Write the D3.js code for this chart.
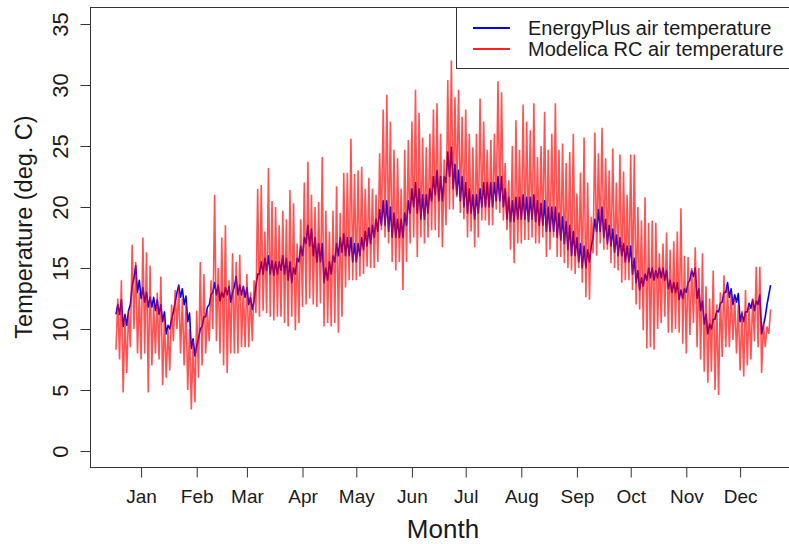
<!DOCTYPE html>
<html><head><meta charset="utf-8">
<script src="https://cdn.jsdelivr.net/npm/d3@7"></script>
<style>
body{margin:0;background:#fff}
svg{display:block}
text{font-family:"Liberation Sans", Arial, Helvetica, sans-serif; fill:#1a1a1a}
</style>
</head><body>
<svg id="c" width="789" height="544"></svg>
<script>
// ---- data ----
const monthLabels = ["Jan","Feb","Mar","Apr","May","Jun","Jul","Aug","Sep","Oct","Nov","Dec"];
const monthLengths = [31,28,31,30,31,30,31,31,30,31,30,31];
const yTicks = [0,5,10,15,20,25,30,35];
const seriesNames = ["EnergyPlus air temperature","Modelica RC air temperature"];
const sampleStepDays = 2; // one low/high pair read every 2 days, starting Jan 1

// Modelica RC air temperature: low / high envelope (deg. C)
const redLo = [8.3,7.5,4.8,6.4,8.5,10.0,8.0,7.5,8.0,4.8,
7.0,8.0,7.5,5.4,6.0,6.6,9.0,10.0,8.0,7.0,
5.0,3.4,4.0,6.0,7.0,8.0,9.0,10.0,9.0,8.0,
7.0,6.4,8.0,8.0,8.0,8.5,8.5,8.5,9.0,11.3,
11.0,11.5,11.3,11.0,10.7,11.0,11.0,10.5,10.2,11.0,
9.9,10.5,11.8,12.0,12.5,12.0,11.8,12.1,10.2,10.5,
10.2,10.5,9.7,11.0,13.4,14.0,14.0,14.0,14.3,14.5,
15.1,15.0,15.0,15.5,18.1,17.5,17.0,15.5,14.8,15.5,
13.2,15.5,17.0,17.5,15.9,17.5,17.0,17.5,18.1,18.1,
17.5,16.7,18.5,19.8,19.8,20.8,19.5,19.0,17.5,18.0,
16.7,17.5,18.9,18.9,18.5,18.5,19.8,19.5,18.9,18.1,
16.5,15.4,17.0,17.0,17.3,17.3,17.5,17.0,17.0,17.5,
15.9,16.5,17.5,15.9,15.9,15.4,15.0,14.8,14.5,15.0,
13.8,12.6,12.4,16.2,16.0,17.0,16.5,16.5,15.4,15.0,
14.8,13.8,14.0,14.0,13.2,12.0,11.6,9.9,8.4,8.5,
8.3,10.0,10.5,11.0,9.7,9.7,10.0,9.7,8.8,8.0,
9.5,10.5,8.5,7.5,6.5,5.6,6.5,5.0,4.6,7.7,
8.5,8.5,9.1,8.0,6.6,6.1,7.0,7.5,9.0,8.5,
6.4,8.5,9.6];
const redHi = [12.5,14.0,11.0,11.5,16.9,15.5,13.0,17.5,16.3,15.2,
12.0,13.0,14.3,11.0,10.0,12.0,13.2,13.5,12.5,12.0,
10.0,9.0,11.5,15.5,14.5,11.5,14.0,21.0,15.0,17.5,
18.5,14.0,16.2,15.5,16.1,13.5,14.5,13.0,14.0,21.5,
21.8,18.0,23.2,20.5,20.0,18.5,19.7,19.0,21.4,20.3,
17.0,19.0,22.0,23.7,21.0,20.0,20.4,24.1,19.7,18.0,
19.7,21.7,19.5,22.8,22.8,25.6,22.7,23.0,23.3,21.5,
22.4,21.5,21.0,24.4,28.0,29.2,27.0,24.7,24.0,21.5,
24.7,25.5,27.0,29.6,27.7,25.7,24.9,26.0,28.0,28.5,
26.0,23.9,30.4,32.0,29.0,29.6,27.4,28.0,26.0,24.9,
26.0,28.9,27.0,24.7,25.5,26.0,30.3,29.4,23.6,22.2,
25.0,27.1,24.7,28.4,27.0,26.3,28.5,24.1,25.0,27.8,
24.7,26.0,28.5,24.7,25.2,23.6,24.5,26.0,21.1,22.8,
25.7,22.0,19.2,26.1,24.4,26.5,24.0,23.0,24.8,22.0,
24.3,22.9,21.0,24.3,24.3,20.0,18.9,20.8,18.7,18.9,
18.7,16.2,17.0,17.9,16.5,17.2,18.0,19.9,16.0,15.9,
15.0,16.7,15.0,16.2,13.5,12.5,14.8,12.0,13.0,14.4,
13.5,13.0,12.5,12.0,11.5,13.2,12.0,12.5,15.1,15.1,
10.5,10.2,11.6];

// EnergyPlus air temperature: low / high envelope (deg. C)
const blueLo = [11.2,11.2,10.2,10.3,12.0,14.2,13.0,12.5,12.2,11.8,
11.8,11.5,11.2,10.6,9.6,10.0,11.4,13.0,12.6,12.0,
10.6,8.4,7.8,9.2,10.2,11.0,12.0,13.0,12.8,12.3,
12.6,12.8,12.2,13.5,12.8,12.8,12.6,12.0,11.6,13.5,
14.5,14.5,14.8,14.5,14.4,14.5,14.8,14.5,14.0,13.8,
14.5,15.5,16.0,17.0,16.8,16.0,15.5,15.5,13.8,14.0,
14.5,15.5,16.0,16.3,16.0,16.0,15.5,15.5,16.0,16.5,
16.8,17.0,17.5,18.0,18.5,18.5,18.0,17.5,17.5,17.5,
17.5,18.5,19.5,20.0,19.5,19.0,19.0,19.5,20.5,21.0,
20.5,20.5,22.0,22.5,21.5,21.0,20.5,20.0,19.5,19.5,
19.0,19.5,20.0,20.0,20.0,20.0,20.5,20.5,20.0,19.0,
18.8,18.8,19.0,19.0,19.0,18.8,19.0,18.8,18.5,18.5,
18.0,18.0,18.0,17.5,17.3,17.0,16.5,16.0,16.0,15.5,
15.0,15.0,15.5,17.5,18.0,18.0,17.5,17.0,16.8,16.3,
16.0,16.0,15.5,15.5,14.5,13.8,13.2,13.5,14.0,14.2,
14.0,14.2,14.2,14.0,13.3,13.0,13.0,12.4,12.5,13.0,
14.0,14.3,12.5,11.5,10.4,9.6,10.0,10.8,11.4,12.2,
13.0,12.6,12.0,12.2,10.6,10.6,11.4,11.7,11.5,12.0,
9.6,11.0,12.8];
const blueHi = [12.0,12.4,11.2,11.5,13.5,15.2,14.0,13.4,13.0,12.6,
12.6,12.4,12.0,11.4,10.3,10.8,12.2,13.6,13.3,12.7,
11.3,9.2,8.6,10.0,11.0,11.8,12.8,13.8,13.6,13.0,
13.4,13.5,13.0,14.3,13.6,13.5,13.4,12.6,12.3,14.5,
15.5,15.8,16.0,15.6,15.5,15.5,16.0,15.8,15.5,15.0,
15.8,16.8,17.5,18.5,18.2,17.5,17.0,17.0,15.0,15.5,
16.0,17.0,17.5,17.8,17.5,17.5,17.0,17.0,17.5,18.0,
18.3,18.5,19.0,19.8,20.5,20.5,20.0,19.5,19.0,19.0,
19.5,20.5,21.5,22.0,21.5,21.0,21.0,21.5,22.5,23.0,
22.5,22.5,24.5,24.9,23.5,23.0,22.5,22.0,21.5,21.0,
21.0,21.5,22.0,22.0,22.0,22.0,22.5,22.5,21.5,20.8,
20.5,20.8,20.8,21.0,20.8,20.8,21.0,20.5,20.3,20.5,
20.0,20.0,20.0,19.5,19.2,18.8,18.5,18.0,17.5,17.0,
16.8,16.5,16.8,19.0,19.8,20.0,19.0,18.5,18.2,17.7,
17.5,17.0,16.8,16.8,15.8,14.8,14.2,14.5,15.0,15.0,
14.8,15.0,15.0,14.8,14.0,13.8,13.8,13.2,13.3,13.8,
14.8,15.0,13.3,12.3,11.2,10.4,10.8,11.5,12.1,13.0,
13.8,13.3,12.8,12.9,11.3,11.4,12.1,12.4,12.3,12.8,
10.3,12.0,13.6];

// ---- drawing ----
const svg = d3.select("#c");
const plot = {left: 90.5, top: 7.5, right: 797, bottom: 467.5};

const x = d3.scaleLinear().domain([0, 365]).range([116, 770.6]);
const y = d3.scaleLinear().domain([0, 35]).range([451, 24]);

// zig-zag points: low at the sample day, high half a step later
function zig(lo, hi) {
  const pts = [];
  lo.forEach((v, i) => {
    const d = i * sampleStepDays;
    pts.push([d, v]);
    pts.push([d + sampleStepDays / 2, hi[i]]);
  });
  return pts;
}
const line = d3.line().x(d => x(d[0])).y(d => y(d[1]));

svg.append("path")
  .attr("d", line(zig(blueLo, blueHi)))
  .attr("fill", "none").attr("stroke", "#0000ff")
  .attr("stroke-width", 1.6).attr("stroke-linejoin", "round");

svg.append("path")
  .attr("d", line(zig(redLo, redHi)))
  .attr("fill", "none").attr("stroke", "#ff0000")
  .attr("stroke-opacity", 0.68)
  .attr("stroke-width", 1.6).attr("stroke-linejoin", "miter").attr("stroke-miterlimit", 2);

// box
svg.append("rect")
  .attr("x", plot.left).attr("y", plot.top)
  .attr("width", plot.right - plot.left).attr("height", plot.bottom - plot.top)
  .attr("fill", "none").attr("stroke", "#333").attr("stroke-width", 1);

// x axis (mid-month ticks)
const starts = [0, ...d3.cumsum(monthLengths).slice(0, -1)];
const tickDays = starts.map(s => s + 14);
const xAxis = d3.axisBottom(x).tickValues(tickDays)
  .tickFormat((d, i) => monthLabels[i]).tickSize(10).tickPadding(12);
const gx = svg.append("g").attr("transform", `translate(0,${plot.bottom})`).call(xAxis);
gx.select(".domain").remove();
gx.selectAll(".tick line").attr("stroke", "#333");
gx.selectAll(".tick text").attr("font-size", 19).attr("fill", "#1a1a1a")
  .attr("font-family", '"Liberation Sans", Arial, sans-serif');

// y axis
const yAxis = d3.axisLeft(y).tickValues(yTicks).tickFormat("").tickSize(10);
const gy = svg.append("g").attr("transform", `translate(${plot.left},0)`).call(yAxis);
gy.select(".domain").remove();
gy.selectAll(".tick line").attr("stroke", "#333");
gy.selectAll(".tick").append("text")
  .attr("transform", "translate(-22.5,0) rotate(-90)")
  .attr("text-anchor", "middle")
  .attr("font-size", 22)
  .attr("fill", "#1a1a1a")
  .text(d => d);

// axis titles
svg.append("text")
  .attr("transform", "translate(32,227) rotate(-90)")
  .attr("text-anchor", "middle").attr("font-size", 23.5)
  .text("Temperature (deg. C)");
svg.append("text")
  .attr("x", 443).attr("y", 538)
  .attr("text-anchor", "middle").attr("font-size", 26)
  .text("Month");

// legend
const lg = svg.append("g");
lg.append("rect").attr("x", 456.5).attr("y", 7.5).attr("width", 400).attr("height", 61)
  .attr("fill", "#fff").attr("stroke", "#333");
const legColors = ["#0000ff", "#ff2020"];
const legY = [28, 49];
seriesNames.forEach((name, i) => {
  lg.append("line").attr("x1", 473).attr("x2", 510).attr("y1", legY[i]).attr("y2", legY[i])
    .attr("stroke", legColors[i]).attr("stroke-width", 2);
  lg.append("text").attr("x", 528).attr("y", legY[i]).attr("dy", "0.36em")
    .attr("font-size", 20).text(name);
});
</script>
</body></html>
